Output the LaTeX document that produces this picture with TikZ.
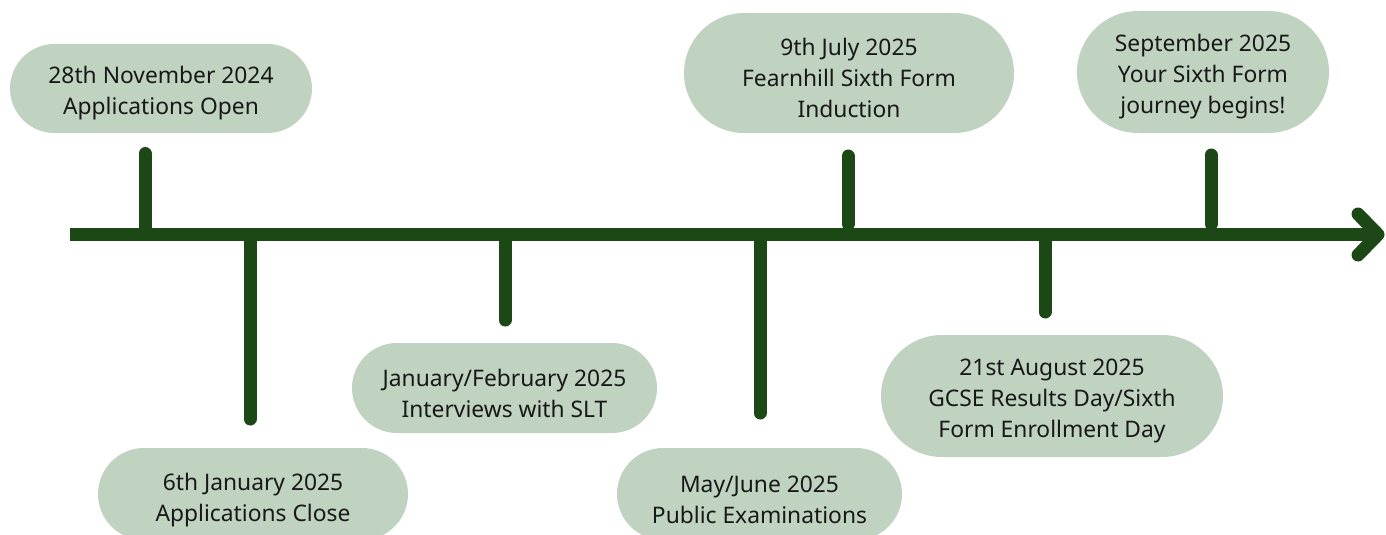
\documentclass[tikz,border=0pt]{standalone}
\usepackage{fontspec}
\setmainfont{Noto Sans}
\definecolor{dkgreen}{RGB}{28,72,22}
\definecolor{pillgreen}{RGB}{191,211,192}
\definecolor{txt}{RGB}{24,24,24}
\tikzset{
  pill/.style={fill=pillgreen, draw=none, inner sep=0pt},
  pilltext/.style={align=center, text=txt, inner sep=0pt, yshift=-5pt,
    font=\fontsize{22.8}{31}\selectfont},
  tick/.style={draw=dkgreen, line width=13pt, line cap=round},
  axis/.style={draw=dkgreen, line width=13pt, line cap=butt},
}
\begin{document}
\begin{tikzpicture}[x=1pt,y=-1pt]
\useasboundingbox (0,0) rectangle (1386,535);
% timeline
\coordinate (start) at (70,234.5);
\coordinate (end) at (1376,234.5);
\draw[axis] (start) -- (end);
\coordinate (ah1) at (1358,214);
\coordinate (ah2) at (1378,234.5);
\coordinate (ah3) at (1358,255);
\draw[tick, line join=round] (ah1) -- (ah2) -- (ah3);
% ticks
\coordinate (t1a) at (145,153.5); \coordinate (t1b) at (145,232);
\coordinate (t2a) at (250,237); \coordinate (t2b) at (250,419);
\coordinate (t3a) at (505,237); \coordinate (t3b) at (505,320);
\coordinate (t4a) at (760,237); \coordinate (t4b) at (760,413);
\coordinate (t5a) at (848,156); \coordinate (t5b) at (848,224);
\coordinate (t6a) at (1045,237); \coordinate (t6b) at (1045,312);
\coordinate (t7a) at (1211,155); \coordinate (t7b) at (1211,224);
\foreach \i in {1,...,7} \draw[tick] (t\i a) -- (t\i b);
% pills
\node[pill, minimum width=302pt, minimum height=89pt, rounded corners=44.5pt,
  label={[pilltext]center:28th November 2024\\Applications Open}] (p1) at (161,88.5) {};
\node[pill, minimum width=310pt, minimum height=92pt, rounded corners=46pt,
  label={[pilltext, yshift=-1pt]center:6th January 2025\\Applications Close}] (p2) at (253,494) {};
\node[pill, minimum width=305pt, minimum height=90pt, rounded corners=45pt,
  label={[pilltext]center:January/February 2025\\Interviews with SLT}] (p3) at (504.5,388) {};
\node[pill, minimum width=285pt, minimum height=92pt, rounded corners=46pt,
  label={[pilltext, yshift=-1pt]center:May/June 2025\\Public Examinations}] (p4) at (759.5,494) {};
\node[pill, minimum width=330pt, minimum height=120pt, rounded corners=60pt,
  label={[pilltext]center:9th July 2025\\Fearnhill Sixth Form\\Induction}] (p5) at (849,73) {};
\node[pill, minimum width=342pt, minimum height=122pt, rounded corners=61pt,
  label={[pilltext]center:21st August 2025\\GCSE Results Day/Sixth\\Form Enrollment Day}] (p6) at (1052,396) {};
\node[pill, minimum width=252pt, minimum height=122pt, rounded corners=61pt,
  label={[pilltext]center:September 2025\\Your Sixth Form\\journey begins!}] (p7) at (1203,72) {};
\end{tikzpicture}
\end{document}
